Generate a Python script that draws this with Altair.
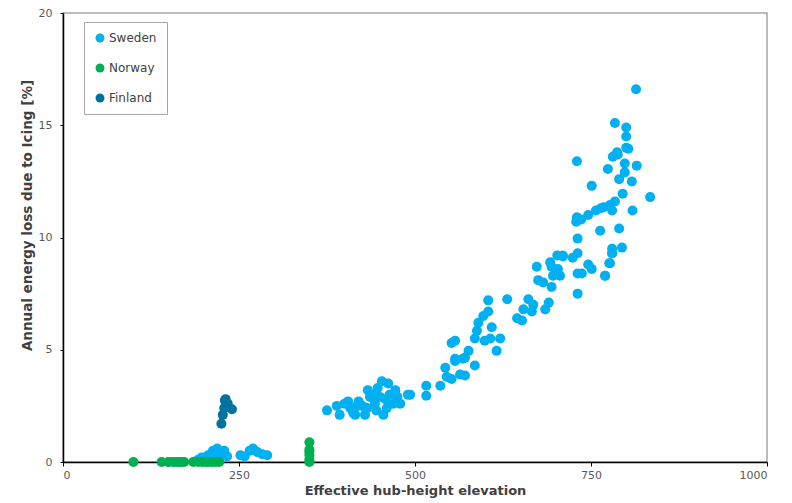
import altair as alt
import pandas as pd

countries = ["Sweden", "Norway", "Finland"]
colors = ["#00B0F0", "#00B050", "#0072A0"]

sweden_x = [150, 158, 165, 192, 197, 202, 206, 210, 213, 216, 219, 222, 226, 229, 233, 252, 258, 265, 270, 276, 283, 290,
            375, 389, 393, 405, 408, 415, 420, 429, 433, 436, 443, 453, 450, 455, 462, 464, 472, 469, 479, 490, 425, 440, 445,
            458, 447, 432, 418, 460, 475, 400, 412, 493,
            516, 516, 536, 543, 545, 552, 557, 568, 564, 571, 585, 616,
            557, 557, 552, 571, 576, 585, 588, 590, 597, 604, 604, 609, 599, 607, 621, 631, 645, 652, 654, 661, 666, 668, 685, 690,
            673, 675, 682, 694, 694, 696, 703, 706, 710, 724, 731, 731, 737, 731, 746, 751, 770, 777, 780,
            781, 788, 798, 815, 774, 798, 790, 808, 795, 834, 768, 777, 784, 780, 809, 763, 790, 780, 794, 780, 776, 770,
            814, 784, 800, 800, 803, 787, 730, 751, 730, 736, 729, 746, 757, 764, 731, 710, 702, 692, 800]
sweden_y = [0.0, 0.0, 0.0, 0.1, 0.2, 0.15, 0.3, 0.2, 0.5, 0.35, 0.6, 0.3, 0.45, 0.5, 0.25, 0.3, 0.25, 0.5, 0.6, 0.45, 0.35, 0.3,
            2.3, 2.5, 2.1, 2.7, 2.4, 2.1, 2.7, 2.1, 3.2, 2.9, 2.6, 3.6, 2.9, 2.1, 3.5, 3.0, 3.2, 2.6, 2.6, 3.0, 2.5, 3.0, 2.3,
            2.8, 3.3, 2.4, 2.5, 2.4, 2.9, 2.6, 2.2, 3.0,
            3.4, 2.95, 3.4, 4.2, 3.8, 3.7, 4.6, 4.6, 3.9, 3.85, 4.3, 4.95,
            4.5, 5.4, 5.3, 4.65, 4.95, 5.5, 5.85, 6.2, 6.5, 6.7, 7.2, 6.0, 5.4, 5.5, 5.5, 7.25, 6.4, 6.3, 6.8, 7.25, 6.7, 7.0, 6.8, 7.1,
            8.7, 8.1, 8.0, 8.7, 7.8, 8.3, 8.6, 8.3, 9.15, 9.1, 9.3, 8.4, 8.4, 7.5, 8.8, 8.6, 8.3, 8.85, 9.3,
            13.6, 13.7, 13.3, 13.2, 13.05, 12.9, 12.6, 12.5, 11.95, 11.8, 11.35, 11.45, 11.6, 11.2, 11.2, 10.3, 10.4, 9.5, 9.55, 9.3, 8.85, 8.3,
            16.6, 15.1, 14.9, 14.5, 13.95, 13.8, 13.4, 12.3, 10.9, 10.8, 10.7, 11.0, 11.2, 11.3, 9.95, 9.2, 9.2, 8.9, 14.0]

norway_x = [100, 140, 150, 157, 163, 168, 172, 185, 192, 198, 203, 207, 212, 217, 222, 350, 350, 350, 350, 350, 350]
norway_y = [0, 0, 0, 0, 0, 0, 0, 0, 0, 0, 0, 0, 0, 0, 0, 0.88, 0.55, 0.45, 0.3, 0.1, 0.0]

finland_x = [230, 231, 234, 229, 240, 227, 225]
finland_y = [2.74, 2.8, 2.6, 2.4, 2.35, 2.1, 1.7]

rows = []
for name, xs, ys in [("Sweden", sweden_x, sweden_y), ("Norway", norway_x, norway_y), ("Finland", finland_x, finland_y)]:
    for xv, yv in zip(xs, ys):
        rows.append({"country": name, "elev": xv, "loss": yv})
df = pd.DataFrame(rows)

font = "DejaVu Sans"

chart = alt.Chart(df).mark_circle(size=100, opacity=1).encode(
    x=alt.X("elev:Q", title="Effective hub-height elevation",
            scale=alt.Scale(domain=[0, 1000], nice=False),
            axis=alt.Axis(values=[0, 250, 500, 750, 1000], format="d", grid=False, domainColor="#000000",
                          tickColor="#000000", tickSize=4, labelPadding=3, titlePadding=4,
                          titleFontSize=13)),
    y=alt.Y("loss:Q", title="Annual energy loss due to Icing [%]",
            scale=alt.Scale(domain=[0, 20], nice=False),
            axis=alt.Axis(values=[0, 5, 10, 15, 20], format="d", grid=False, domainColor="#000000",
                          tickColor="#000000", tickSize=3, labelPadding=8, titlePadding=4,
                          titleFontSize=13.5, titleY=202)),
    color=alt.Color("country:N", title=None,
                    scale=alt.Scale(domain=countries, range=colors),
                    legend=alt.Legend(orient="none", legendX=21, legendY=9, strokeColor="#A6A6A6",
                                      padding=10, rowPadding=18, symbolSize=80, symbolType="circle",
                                      labelFontSize=12, labelColor="#404040", labelFont=font,
                                      labelOffset=3, fillColor="#FFFFFF")),
).properties(
    width=704, height=449,
    autosize=alt.AutoSizeParams(type="none"),
    padding={"left": 55, "top": 5, "right": 12, "bottom": 40},
).configure_view(
    stroke="#A6A6A6", strokeWidth=1.5
).configure_axis(
    labelFont=font, labelFontSize=11, labelColor="#595959",
    titleFont=font, titleFontWeight="bold", titleColor="#404040",
    domainWidth=1.5
)

chart.save("out.html", embed_options={"renderer": "svg", "actions": False})
